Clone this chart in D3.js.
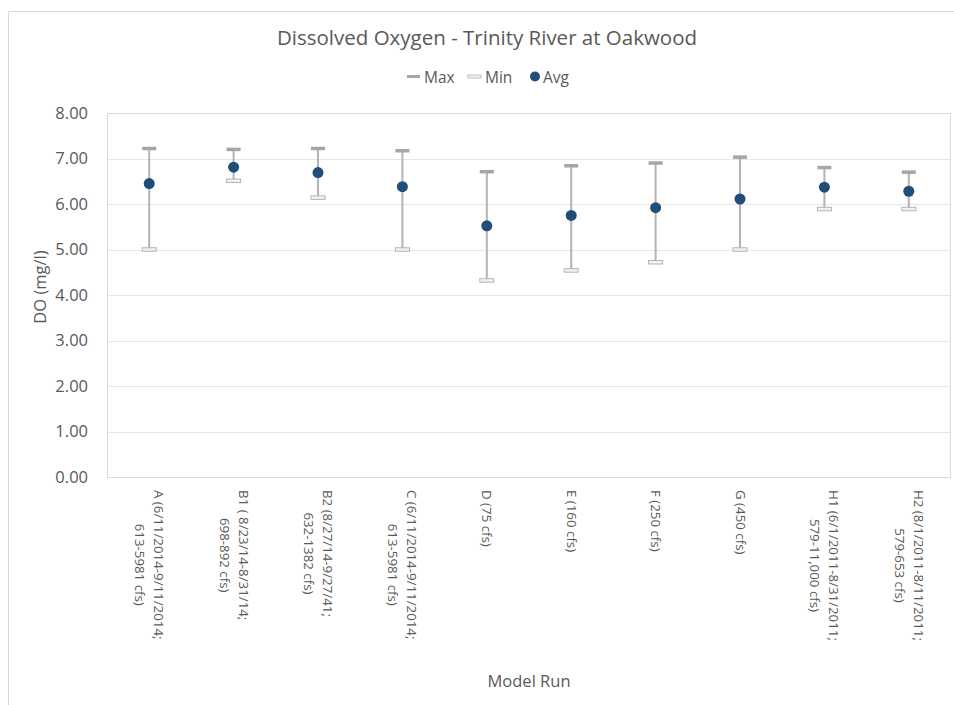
<!DOCTYPE html>
<html>
<head>
<meta charset="utf-8">
<script src="https://cdn.jsdelivr.net/npm/d3@7"></script>
<style>
  html, body { margin: 0; padding: 0; background: #ffffff; }
  svg { display: block; font-family: "Open Sans", "Noto Sans", sans-serif; }
</style>
</head>
<body>
<svg id="chart" width="954" height="705"></svg>
<script>
// Model runs (each label split into display lines)
const categories = [
  ["A (6/11/2014-9/11/2014;", "613-5981 cfs)"],
  ["B1 ( 8/23/14-8/31/14;", "698-892 cfs)"],
  ["B2 (8/27/14-9/27/41;", "632-1382 cfs)"],
  ["C (6/11/2014-9/11/2014;", "613-5981 cfs)"],
  ["D (75 cfs)"],
  ["E (160 cfs)"],
  ["F (250 cfs)"],
  ["G (450 cfs)"],
  ["H1 (6/1/2011-8/31/2011;", "579-11,000 cfs)"],
  ["H2 (8/1/2011-8/11/2011;", "579-653 cfs)"]
];
// Dissolved oxygen, mg/l
const maxValues = [7.22, 7.20, 7.22, 7.17, 6.71, 6.84, 6.90, 7.03, 6.80, 6.70];
const minValues = [5.00, 6.51, 6.14, 5.00, 4.32, 4.54, 4.72, 5.00, 5.89, 5.89];
const avgValues = [6.45, 6.81, 6.69, 6.38, 5.52, 5.75, 5.92, 6.11, 6.37, 6.28];
const yTicks = [0, 1, 2, 3, 4, 5, 6, 7, 8];

const svg = d3.select("#chart");
const textColor = "#595959";
const plot = { left: 107, right: 951, top: 113, bottom: 477 };

// outer chart frame
svg.append("path")
  .attr("d", "M8.5,705 V11.5 H954")
  .attr("fill", "none").attr("stroke", "#d9d9d9").attr("stroke-width", 1);

const keys = categories.map((c, i) => i);
const x = d3.scaleBand().domain(keys).range([plot.left, plot.right]);
const y = d3.scaleLinear().domain([0, 8]).range([plot.bottom, plot.top]);

// horizontal gridlines
svg.append("g").selectAll("line").data(yTicks).join("line")
  .attr("x1", plot.left).attr("x2", plot.right)
  .attr("y1", d => Math.round(y(d)) + 0.5).attr("y2", d => Math.round(y(d)) + 0.5)
  .attr("stroke", "#e6e6e6").attr("stroke-width", 1);

// plot area frame
svg.append("rect")
  .attr("x", plot.left + 0.5).attr("y", plot.top + 0.5)
  .attr("width", plot.right - plot.left - 1).attr("height", plot.bottom - plot.top)
  .attr("fill", "none").attr("stroke", "#d9d9d9");

// y axis labels
const yAxis = d3.axisLeft(y).tickValues(yTicks).tickFormat(d3.format(".2f")).tickSize(0).tickPadding(0);
const gy = svg.append("g").attr("transform", `translate(${plot.left - 19},0)`).call(yAxis);
gy.select(".domain").remove();
gy.selectAll("text").attr("fill", textColor).attr("font-size", 16.5)
  .attr("font-family", "'Open Sans', sans-serif");

// x axis labels (rotated, reading downward; lines centred on the longest one)
const xLabels = svg.append("g");
categories.forEach((lines, i) => {
  const cx = x(i) + x.bandwidth() / 2;
  const lh = 19;
  const n = lines.length;
  const t = xLabels.append("text")
    .attr("transform", `translate(${cx},490) rotate(90)`)
    .attr("text-anchor", "middle")
    .attr("fill", textColor).attr("font-size", 13.3);
  const spans = lines.map((ln, j) => {
    // first line sits to the right of the category centre
    const dy = (j - (n - 1) / 2) * lh;
    return t.append("tspan").attr("y", dy + 4.5).text(ln);
  });
  const longest = d3.max(spans, s => s.node().getComputedTextLength());
  spans.forEach(s => s.attr("x", longest / 2));
});

// axis titles
svg.append("text")
  .attr("transform", `translate(46,287) rotate(-90)`)
  .attr("text-anchor", "middle").attr("fill", textColor).attr("font-size", 16.5)
  .text("DO (mg/l)");
svg.append("text")
  .attr("x", 529).attr("y", 687)
  .attr("text-anchor", "middle").attr("fill", textColor).attr("font-size", 16.5)
  .text("Model Run");

// title
svg.append("text")
  .attr("x", 487).attr("y", 45)
  .attr("text-anchor", "middle").attr("fill", textColor).attr("font-size", 20.5)
  .text("Dissolved Oxygen - Trinity River at Oakwood");

// range lines between min and max
const marks = svg.append("g");
marks.selectAll("line.range").data(keys).join("line").attr("class", "range")
  .attr("x1", i => x(i) + x.bandwidth() / 2).attr("x2", i => x(i) + x.bandwidth() / 2)
  .attr("y1", i => y(maxValues[i])).attr("y2", i => y(minValues[i]))
  .attr("stroke", "#b3b3b3").attr("stroke-width", 2);

const capW = 14, capH = 3.5;
// max dashes
marks.selectAll("rect.max").data(keys).join("rect").attr("class", "max")
  .attr("x", i => x(i) + x.bandwidth() / 2 - capW / 2)
  .attr("y", i => y(maxValues[i]) - capH / 2)
  .attr("width", capW).attr("height", capH)
  .attr("fill", "#a6a6a6");
// min dashes
marks.selectAll("rect.min").data(keys).join("rect").attr("class", "min")
  .attr("x", i => x(i) + x.bandwidth() / 2 - capW / 2)
  .attr("y", i => y(minValues[i]) - capH / 2)
  .attr("width", capW).attr("height", capH)
  .attr("fill", "#f2f2f2").attr("stroke", "#b3b3b3").attr("stroke-width", 1);
// averages
marks.selectAll("circle.avg").data(keys).join("circle").attr("class", "avg")
  .attr("cx", i => x(i) + x.bandwidth() / 2)
  .attr("cy", i => y(avgValues[i]))
  .attr("r", 5.5)
  .attr("fill", "#1f4e79");

// legend
const lg = svg.append("g").attr("font-size", 15.5).attr("fill", textColor);
lg.append("rect").attr("x", 407).attr("y", 75).attr("width", 13).attr("height", 3).attr("fill", "#a6a6a6");
lg.append("text").attr("x", 424).attr("y", 82.5).text("Max");
lg.append("rect").attr("x", 468).attr("y", 75).attr("width", 13).attr("height", 3)
  .attr("fill", "#f2f2f2").attr("stroke", "#b3b3b3").attr("stroke-width", 0.8);
lg.append("text").attr("x", 485).attr("y", 82.5).text("Min");
lg.append("circle").attr("cx", 535).attr("cy", 76.5).attr("r", 5).attr("fill", "#1f4e79");
lg.append("text").attr("x", 543).attr("y", 82.5).text("Avg");
</script>
</body>
</html>
